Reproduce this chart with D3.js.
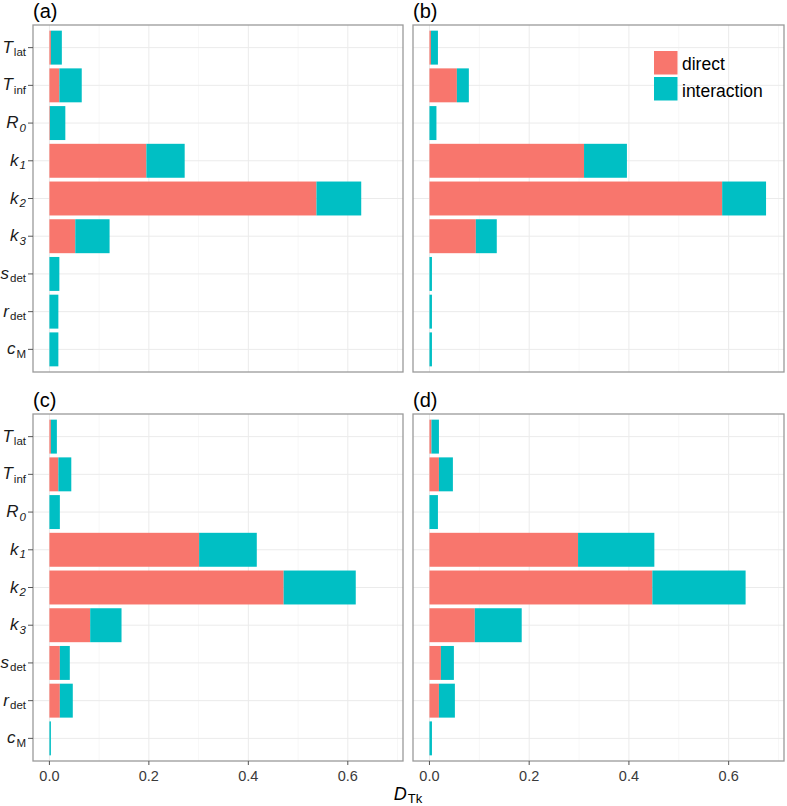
<!DOCTYPE html>
<html>
<head>
<meta charset="utf-8">
<script src="https://cdn.jsdelivr.net/npm/d3@7/dist/d3.min.js"></script>
<style>
  html, body { margin: 0; padding: 0; background: #fff; }
  svg { display: block; font-family: "Liberation Sans", Arial, sans-serif; }
</style>
</head>
<body>
<svg id="chart" width="787" height="806"></svg>
<script>
// ---------------- data ----------------
const paramMain = ["T", "T", "R", "k", "k", "k", "s", "r", "c"];
const paramSub  = ["lat", "inf", "0", "1", "2", "3", "det", "det", "M"];
const subItalic = [false, false, true, true, true, true, false, false, false];
const panelLabels = ["(a)", "(b)", "(c)", "(d)"];
const seriesNames = ["direct", "interaction"];
const seriesColors = ["#F8766D", "#00BFC4"];
const xTicks = [0.0, 0.2, 0.4, 0.6];
const xTickLabels = ["0.0", "0.2", "0.4", "0.6"];

const directA = [0.003, 0.020, 0.001, 0.195, 0.537, 0.052, 0.000, 0.000, 0.000];
const interA  = [0.022, 0.045, 0.031, 0.077, 0.090, 0.069, 0.020, 0.018, 0.018];
const directB = [0.003, 0.055, 0.000, 0.310, 0.587, 0.093, 0.000, 0.000, 0.000];
const interB  = [0.014, 0.024, 0.014, 0.086, 0.088, 0.042, 0.005, 0.005, 0.005];
const directC = [0.003, 0.018, 0.000, 0.301, 0.471, 0.082, 0.021, 0.021, 0.000];
const interC  = [0.012, 0.026, 0.021, 0.116, 0.145, 0.063, 0.020, 0.026, 0.003];
const directD = [0.004, 0.019, 0.000, 0.298, 0.447, 0.091, 0.023, 0.019, 0.000];
const interD  = [0.015, 0.028, 0.017, 0.153, 0.187, 0.094, 0.026, 0.032, 0.005];

const directs = [directA, directB, directC, directD];
const inters  = [interA, interB, interC, interD];

// ---------------- layout ----------------
const svg = d3.select("#chart");
const colX = [[33, 403], [413, 784]];
const rowY = [[25, 372], [414, 761]];
const xDomain = [-0.033, 0.711];
const minorTicks = [0.1, 0.3, 0.5, 0.7];

const panels = [
  {col: 0, row: 0}, {col: 1, row: 0}, {col: 0, row: 1}, {col: 1, row: 1}
];

panels.forEach((p, pi) => {
  const [x0, x1] = colX[p.col];
  const [y0, y1] = rowY[p.row];
  const x = d3.scaleLinear().domain(xDomain).range([x0, x1]);
  const idx = d3.range(paramMain.length);
  const y = d3.scaleBand().domain(idx).range([y0, y1]).paddingInner(0.1).paddingOuter(0.15);

  const g = svg.append("g");

  const clipId = "clip" + pi;
  svg.append("clipPath").attr("id", clipId)
    .append("rect").attr("x", x0).attr("y", y0).attr("width", x1 - x0).attr("height", y1 - y0);

  const grid = g.append("g").attr("clip-path", `url(#${clipId})`);
  grid.selectAll(".minor").data(minorTicks).join("line")
    .attr("x1", d => x(d)).attr("x2", d => x(d))
    .attr("y1", y0).attr("y2", y1)
    .attr("stroke", "#f2f2f2").attr("stroke-width", 0.6);
  grid.selectAll(".majorx").data(xTicks).join("line")
    .attr("x1", d => x(d)).attr("x2", d => x(d))
    .attr("y1", y0).attr("y2", y1)
    .attr("stroke", "#ebebeb").attr("stroke-width", 1);
  grid.selectAll(".majory").data(idx).join("line")
    .attr("x1", x0).attr("x2", x1)
    .attr("y1", d => y(d) + y.bandwidth() / 2).attr("y2", d => y(d) + y.bandwidth() / 2)
    .attr("stroke", "#ebebeb").attr("stroke-width", 1);

  const dir = directs[pi], inter = inters[pi];
  const bars = g.append("g");
  bars.selectAll(".dir").data(idx).join("rect")
    .attr("x", x(0))
    .attr("y", d => y(d))
    .attr("width", d => Math.max(0, x(dir[d]) - x(0)))
    .attr("height", y.bandwidth())
    .attr("fill", seriesColors[0]);
  bars.selectAll(".int").data(idx).join("rect")
    .attr("x", d => x(dir[d]))
    .attr("y", d => y(d))
    .attr("width", d => Math.max(0, x(dir[d] + inter[d]) - x(dir[d])))
    .attr("height", y.bandwidth())
    .attr("fill", seriesColors[1]);

  g.append("rect")
    .attr("x", x0).attr("y", y0).attr("width", x1 - x0).attr("height", y1 - y0)
    .attr("fill", "none").attr("stroke", "#9a9a9a").attr("stroke-width", 1.3);

  svg.append("text")
    .attr("x", x0).attr("y", y0 - 7)
    .attr("font-size", 20).attr("fill", "#000")
    .text(panelLabels[pi]);

  if (p.col === 0) {
    const ya = g.append("g");
    idx.forEach(d => {
      const cy = y(d) + y.bandwidth() / 2;
      ya.append("line").attr("x1", x0 - 5).attr("x2", x0).attr("y1", cy).attr("y2", cy)
        .attr("stroke", "#555").attr("stroke-width", 1);
      const t = ya.append("text").attr("x", x0 - 7).attr("y", cy + 5)
        .attr("text-anchor", "end").attr("fill", "#1a1a1a");
      t.append("tspan").attr("font-size", 17).attr("font-style", "italic").text(paramMain[d]);
      t.append("tspan").attr("font-size", 11.5).attr("dy", 3.5).attr("dx", 1)
        .attr("font-style", subItalic[d] ? "italic" : "normal").text(paramSub[d]);
    });
  }
  if (p.row === 1) {
    const xa = g.append("g");
    xTicks.forEach((v, i) => {
      xa.append("line").attr("x1", x(v)).attr("x2", x(v)).attr("y1", y1).attr("y2", y1 + 4)
        .attr("stroke", "#555").attr("stroke-width", 1);
      xa.append("text").attr("x", x(v)).attr("y", y1 + 20)
        .attr("text-anchor", "middle").attr("font-size", 14.5).attr("fill", "#3a3a3a")
        .text(xTickLabels[i]);
    });
  }
});

const at = svg.append("text").attr("x", 408).attr("y", 800).attr("text-anchor", "middle").attr("fill", "#000");
at.append("tspan").attr("font-size", 18).attr("font-style", "italic").text("D");
at.append("tspan").attr("font-size", 13).attr("dy", 3).attr("dx", 1).text("Tk");

const lg = svg.append("g");
seriesNames.forEach((n, i) => {
  lg.append("rect").attr("x", 654).attr("y", 51 + i * 26).attr("width", 23.5).attr("height", 23.5)
    .attr("fill", seriesColors[i]);
  lg.append("text").attr("x", 682).attr("y", 70 + i * 26.5)
    .attr("font-size", 17.5).attr("fill", "#000").text(n);
});
</script>
</body>
</html>
